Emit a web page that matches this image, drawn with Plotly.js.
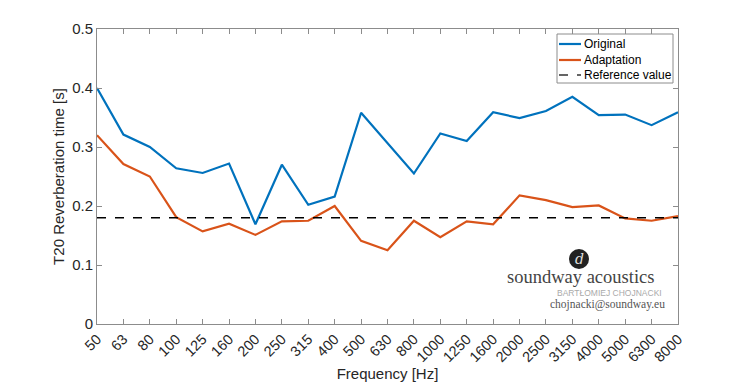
<!DOCTYPE html>
<html>
<head>
<meta charset="utf-8">
<script src="https://cdn.plot.ly/plotly-3.0.1.min.js"></script>
<style>html,body{margin:0;padding:0;background:#fff;}#chart{width:750px;height:382px;}</style>
</head>
<body>
<div id="chart"></div>
<script>
const frequencies = ["50","63","80","100","125","160","200","250","315","400","500","630","800","1000","1250","1600","2000","2500","3150","4000","5000","6300","8000"];
const original = [0.400,0.321,0.300,0.264,0.256,0.272,0.169,0.270,0.202,0.216,0.358,0.307,0.255,0.323,0.310,0.359,0.349,0.361,0.385,0.354,0.355,0.337,0.359];
const adaptation = [0.320,0.271,0.250,0.181,0.157,0.170,0.151,0.174,0.175,0.200,0.141,0.125,0.175,0.147,0.174,0.169,0.218,0.210,0.198,0.201,0.179,0.175,0.183];
const referenceValue = 0.18;
const seriesNames = ["Original", "Adaptation", "Reference value"];
const seriesColors = ["#0072BD", "#D95319", "#000000"];

const font = "Liberation Sans, Arial, sans-serif";
const traces = [
  {x: frequencies, y: original, name: seriesNames[0], type: "scatter", mode: "lines",
   line: {color: seriesColors[0], width: 2.2}},
  {x: frequencies, y: adaptation, name: seriesNames[1], type: "scatter", mode: "lines",
   line: {color: seriesColors[1], width: 2.2}},
  {x: frequencies, y: frequencies.map(() => referenceValue), name: seriesNames[2], type: "scatter", mode: "lines",
   line: {color: seriesColors[2], width: 1.4, dash: "dash"}}
];

const px = v => (v - 97) / 581;
const py = v => (324 - v) / 295;

// legend box drawn in paper space (MATLAB-style compact legend)
const legendRows = [44, 60, 75];
const legendShapes = [
  {type: "rect", xref: "paper", yref: "paper", x0: px(557), x1: px(673), y0: py(83), y1: py(34),
   fillcolor: "rgba(255,255,255,0)", line: {color: "#8c8c8c", width: 1}}
];
const legendTexts = [];
seriesNames.forEach((n, i) => {
  legendShapes.push({type: "line", xref: "paper", yref: "paper",
    x0: px(559), x1: px(581), y0: py(legendRows[i]), y1: py(legendRows[i]),
    line: {color: i === 2 ? "#333" : seriesColors[i], width: i === 2 ? 1.4 : 2.2, dash: i === 2 ? "dash" : "solid"}});
  legendTexts.push({xref: "paper", yref: "paper", x: px(582), y: py(legendRows[i]), text: n,
    showarrow: false, xanchor: "left", yanchor: "middle",
    font: {family: font, size: 12, color: "#000"}});
});

const layout = {
  width: 750, height: 382,
  margin: {l: 97, r: 72, t: 29, b: 58},
  paper_bgcolor: "#fff", plot_bgcolor: "#fff",
  font: {family: font, color: "#262626", size: 15},
  showlegend: false,
  xaxis: {type: "category", range: [0, frequencies.length - 1],
    tickangle: -45, ticks: "inside", ticklen: 5, tickcolor: "#8c8c8c",
    showline: true, linecolor: "#8c8c8c", linewidth: 1, mirror: "ticks",
    showgrid: false, zeroline: false, tickfont: {size: 14.5, color: "#262626"},
    title: {text: "Frequency [Hz]", font: {size: 15, color: "#262626"}, standoff: 4}},
  yaxis: {range: [0, 0.5], dtick: 0.1, tickformat: "~g",
    ticks: "inside", ticklen: 5, tickcolor: "#8c8c8c",
    showline: true, linecolor: "#8c8c8c", linewidth: 1, mirror: "ticks",
    showgrid: false, zeroline: false, tickfont: {size: 15, color: "#262626"},
    title: {text: "T20 Reverberation time [s]", font: {size: 15, color: "#262626"}, standoff: 3}},
  shapes: [
    {type: "circle", xref: "paper", yref: "paper", xsizemode: "pixel", ysizemode: "pixel",
     xanchor: px(579), yanchor: py(259),
     x0: -10, x1: 10, y0: -10, y1: 10, fillcolor: "#222", line: {width: 0}}
  ].concat(legendShapes),
  annotations: [
    {xref: "paper", yref: "paper", x: px(579), y: py(259), text: "<i>d</i>",
     showarrow: false, font: {family: "DejaVu Serif, serif", size: 14, color: "#ddd"}, xanchor: "center", yanchor: "middle"},
    {xref: "paper", yref: "paper", x: px(580), y: py(277), text: "soundway acoustics",
     showarrow: false, font: {family: "Liberation Serif, serif", size: 18.5, color: "#444"}, xanchor: "center", yanchor: "middle"},
    {xref: "paper", yref: "paper", x: px(609), y: py(293), text: "BARTŁOMIEJ CHOJNACKI",
     showarrow: false, font: {family: "Liberation Sans, sans-serif", size: 8.5, color: "#aaa"}, xanchor: "center", yanchor: "middle"},
    {xref: "paper", yref: "paper", x: px(607), y: py(304), text: "chojnacki@soundway.eu",
     showarrow: false, font: {family: "Liberation Serif, serif", size: 11.5, color: "#555"}, xanchor: "center", yanchor: "middle"}
  ].concat(legendTexts)
};

Plotly.newPlot("chart", traces, layout, {displayModeBar: false, staticPlot: true});
</script>
</body>
</html>
